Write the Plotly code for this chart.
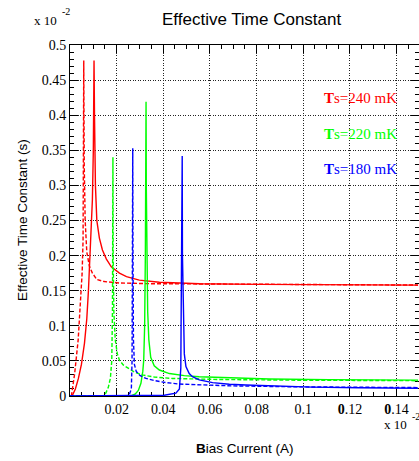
import plotly.graph_objects as go

# ---------------- data ----------------
red_solid_x = [0.0009, 0.0023, 0.0036, 0.0049, 0.0062, 0.0072, 0.0079, 0.0085, 0.0092, 0.0096,
               0.0100, 0.0102, 0.0103, 0.0105, 0.0109, 0.0115, 0.0126, 0.0139, 0.0156, 0.0177,
               0.0212, 0.0242, 0.0297, 0.0383, 0.0554, 0.0811, 0.1154, 0.1492]
red_solid_y = [0.0, 0.010, 0.025, 0.045, 0.075, 0.110, 0.150, 0.190, 0.235, 0.280,
               0.350, 0.420, 0.478, 0.400, 0.300, 0.250, 0.225, 0.208, 0.195, 0.184,
               0.175, 0.170, 0.165, 0.162, 0.160, 0.159, 0.1585, 0.158]

red_dash_x = [0.0006, 0.0020, 0.0035, 0.0045, 0.0052, 0.0056, 0.0057, 0.0059, 0.0061, 0.0065,
              0.0072, 0.0083, 0.0096, 0.0115, 0.0147, 0.0212, 0.0340, 0.0768, 0.1492]
red_dash_y = [0.0, 0.032, 0.080, 0.127, 0.175, 0.222, 0.300, 0.478, 0.330, 0.250,
              0.205, 0.185, 0.175, 0.166, 0.163, 0.161, 0.160, 0.159, 0.158]

green_solid_x = [0.0, 0.0262, 0.0280, 0.0293, 0.0304, 0.0312, 0.0316, 0.0320, 0.0323, 0.0325,
                 0.0326, 0.0327, 0.0329, 0.0333, 0.0338, 0.0346, 0.0361, 0.0383, 0.0426, 0.0490,
                 0.0554, 0.0683, 0.0854, 0.1111, 0.1492]
green_solid_y = [0.0, 0.0, 0.003, 0.008, 0.018, 0.035, 0.051, 0.10, 0.20, 0.30,
                 0.419, 0.30, 0.20, 0.12, 0.08, 0.055, 0.043, 0.037, 0.032, 0.029,
                 0.0275, 0.0258, 0.0243, 0.0233, 0.0226]

green_dash_x = [0.0, 0.0140, 0.0152, 0.0164, 0.0173, 0.0179, 0.0182, 0.0184, 0.0185, 0.0188,
                0.0194, 0.0203, 0.0212, 0.0229, 0.0246, 0.0276, 0.0310, 0.0361, 0.0439, 0.0640,
                0.0982, 0.1492]
green_dash_y = [0.0, 0.0, 0.003, 0.012, 0.025, 0.05, 0.12, 0.34, 0.20, 0.12,
                0.08, 0.06, 0.051, 0.044, 0.040, 0.034, 0.030, 0.027, 0.025, 0.0235,
                0.0225, 0.0218]

blue_dash_x = [0.0, 0.0242, 0.0254, 0.0263, 0.0266, 0.0268, 0.0269, 0.0270, 0.0272, 0.0276,
               0.0284, 0.0301, 0.0326, 0.0361, 0.0404, 0.0469, 0.0554, 0.0695, 0.0982, 0.1492]
blue_dash_y = [0.0, 0.0, 0.002, 0.010, 0.05, 0.15, 0.353, 0.20, 0.08, 0.045,
               0.035, 0.029, 0.025, 0.022, 0.0195, 0.017, 0.0158, 0.0144, 0.0130, 0.0120]

blue_solid_x = [0.0, 0.0327, 0.0404, 0.0454, 0.0469, 0.0475, 0.0478, 0.0481, 0.0482, 0.0486,
                0.0490, 0.0497, 0.0511, 0.0525, 0.0554, 0.0611, 0.0683, 0.0754, 0.0897, 0.1038,
                0.1239, 0.1492]
blue_solid_y = [0.0, 0.0, 0.001, 0.004, 0.010, 0.04, 0.15, 0.342, 0.20, 0.10,
                0.06, 0.042, 0.032, 0.0275, 0.023, 0.019, 0.0168, 0.0157, 0.0138, 0.0127,
                0.0118, 0.0110]

x_tickvals = [0.02, 0.04, 0.06, 0.08, 0.10, 0.12, 0.14]
x_ticktext = ["0.02", "0.04", "0.06", "0.08", "0.1", "<b>0</b>.12", "<b>0</b>.14"]
y_tickvals = [0, 0.05, 0.1, 0.15, 0.2, 0.25, 0.3, 0.35, 0.4, 0.45, 0.5]
y_ticktext = ["0", "0.05", "0.1", "0.15", "0.2", "0.25", "0.3", "0.35", "0.4", "0.45", "0.5"]

labels = ["<b>T</b>s=240 mK", "<b>T</b>s=220 mK", "<b>T</b>s=180 mK"]
label_colors = ["#ff0000", "#00ff00", "#0000ff"]

# ---------------- figure ----------------
W, H = 419, 461
L, R, T, B = 70, 0, 45, 65
pw, ph = W - L - R, H - T - B

def px(xp):
    return (xp - L) / pw

def py(yp):
    return (H - B - yp) / ph

fig = go.Figure()
DASH = "4px,2px"
traces = [
    (red_dash_x, red_dash_y, "#ff0000", DASH),
    (red_solid_x, red_solid_y, "#ff0000", "solid"),
    (green_dash_x, green_dash_y, "#00ff00", DASH),
    (green_solid_x, green_solid_y, "#00ff00", "solid"),
    (blue_dash_x, blue_dash_y, "#0000ff", DASH),
    (blue_solid_x, blue_solid_y, "#0000ff", "solid"),
]
for xs, ys, c, d in traces:
    fig.add_trace(go.Scatter(x=xs, y=ys, mode="lines",
                             line=dict(color=c, width=1.4, dash=d),
                             showlegend=False, hoverinfo="skip"))

serif = "Liberation Serif"
sans = "Liberation Sans"
axis_common = dict(
    showline=True, linecolor="black", linewidth=1, mirror="ticks",
    ticks="inside", ticklen=8, tickwidth=1, tickcolor="black",
    showgrid=True, gridcolor="#222", gridwidth=1, griddash="1px,1.5px",
    zeroline=False, tickfont=dict(family=serif, size=14, color="black"),
    layer="below traces",
)
fig.update_xaxes(range=[0, 0.1496], tickmode="array", tickvals=x_tickvals, ticktext=x_ticktext,
                 minor=dict(tickmode="linear", tick0=0, dtick=0.005, ticklen=4,
                            tickcolor="black", ticks="inside", showgrid=False),
                 **axis_common)
fig.update_yaxes(range=[0, 0.5], tickmode="array", tickvals=y_tickvals, ticktext=y_ticktext,
                 minor=dict(tickmode="linear", tick0=0, dtick=0.01, ticklen=4,
                            tickcolor="black", ticks="inside", showgrid=False),
                 **axis_common)

ann = []
# title
ann.append(dict(text="Effective Time Constant", x=px(252), y=py(20), xanchor="center", yanchor="middle",
                font=dict(family=sans, size=17, color="black")))
# axis titles
ann.append(dict(text="Effective Time Constant (s)", x=px(22), y=py(220), textangle=-90,
                xanchor="center", yanchor="middle", font=dict(family=sans, size=13.5, color="black")))
ann.append(dict(text="<b>B</b>ias Current (A)", x=px(245), y=py(448), xanchor="center", yanchor="middle",
                font=dict(family=sans, size=13.5, color="black")))
# multipliers
ann.append(dict(text="x 10", x=px(32), y=py(20.5), xanchor="left", yanchor="middle",
                font=dict(family=serif, size=13, color="black")))
ann.append(dict(text="-2", x=px(60), y=py(11.5), xanchor="left", yanchor="middle",
                font=dict(family=serif, size=10, color="black")))
ann.append(dict(text="x 10", x=px(381.5), y=py(424), xanchor="left", yanchor="middle",
                font=dict(family=serif, size=13, color="black")))
ann.append(dict(text="-2", x=px(410), y=py(416), xanchor="left", yanchor="middle",
                font=dict(family=serif, size=10, color="black")))
# curve labels
for txt, c, yy in zip(labels, label_colors, [98, 133.5, 168.5]):
    ann.append(dict(text=txt, x=px(399), y=py(yy), xanchor="right", yanchor="middle",
                    font=dict(family=serif, size=15, color=c)))
for a in ann:
    a.update(xref="paper", yref="paper", showarrow=False)

fig.update_layout(width=W, height=H, margin=dict(l=L, r=R, t=T, b=B, pad=0),
                  paper_bgcolor="white", plot_bgcolor="white", annotations=ann,
                  showlegend=False)

fig.write_html("out.html")
